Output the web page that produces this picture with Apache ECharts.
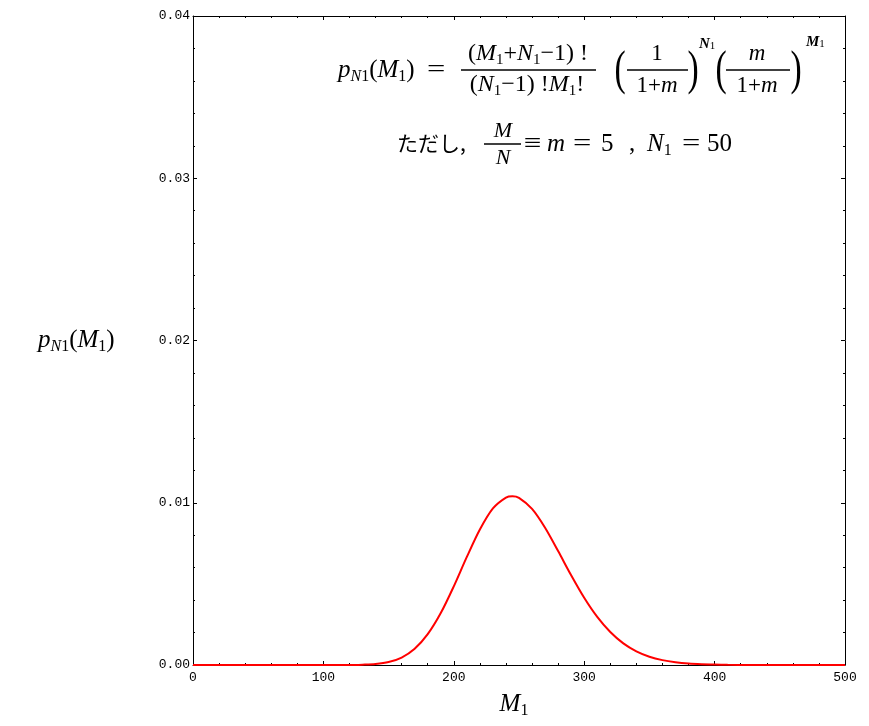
<!DOCTYPE html>
<html>
<head>
<meta charset="utf-8">
<script src="https://cdn.jsdelivr.net/npm/echarts@6/dist/echarts.min.js"></script>
<style>
  html, body { margin: 0; padding: 0; background: #fff; }
  #chart { width: 869px; height: 726px; }
</style>
</head>
<body>
<div id="chart"></div>
<script>
// 負の二項分布 p_N1(M1)  (m = 5, N1 = 50) -- 図から読み取った値
const mVals = [0, 20, 40, 60, 80, 100, 110, 120, 130, 140, 150, 160, 170, 180, 190,
  200, 210, 220, 230, 240, 245, 250, 260, 270, 280, 290, 300, 310, 320, 330, 340, 350, 360, 370, 380,
  390, 400, 410, 420, 440, 460, 480, 500]
const pVals = [0, 0, 0, 0, 0, 0, 0, 0, 0.00002, 0.00006, 0.00018, 0.00046, 0.00100, 0.00190, 0.00320,
  0.00485, 0.00666, 0.00835, 0.00965, 0.01032, 0.0104, 0.01030, 0.00962, 0.00846, 0.00702, 0.00553, 0.00414, 0.00296, 0.00203, 0.00133, 0.00084, 0.00051, 0.00030, 0.00017, 0.00009,
  0.00005, 0.00003, 0.00001, 0, 0, 0, 0, 0]
const xTicks = [0, 100, 200, 300, 400, 500]
const yTicks = [0, 0.01, 0.02, 0.03, 0.04]

const SERIF = '"Liberation Serif", "DejaVu Serif", serif'
const MONO = '"Liberation Mono", "DejaVu Sans Mono", monospace'
const CJK = '"Noto Sans CJK JP", sans-serif'

// 数式用のリッチテキストスタイル
const mathRich = (size) => {
  const sub = Math.round(size * 0.62)
  return {
    r: { fontFamily: SERIF, fontSize: size, lineHeight: size + 4, color: '#000' },
    i: { fontFamily: SERIF, fontStyle: 'italic', fontSize: size, lineHeight: size + 4, color: '#000' },
    s: { fontFamily: SERIF, fontSize: sub, lineHeight: sub, verticalAlign: 'bottom', color: '#000' },
    si: { fontFamily: SERIF, fontStyle: 'italic', fontSize: sub, lineHeight: sub, verticalAlign: 'bottom', color: '#000' },
    pi: { fontFamily: SERIF, fontStyle: 'italic', fontWeight: 'bold', fontSize: 15, lineHeight: 16, color: '#000' },
    p: { fontFamily: SERIF, fontSize: 11, lineHeight: 16, verticalAlign: 'bottom', color: '#000' },
    j: { fontFamily: CJK, fontSize: size - 2, lineHeight: size + 4, color: '#000' }
  }
}

function tx (x, y, text, size, align, sx) {
  return {
    type: 'text', x: x, y: y, z: 10, scaleX: sx || 1,
    style: { text: text, rich: mathRich(size), align: align || 'left', verticalAlign: 'middle' }
  }
}
function bar (x1, x2, y) {
  return { type: 'line', z: 10, shape: { x1: x1, y1: y, x2: x2, y2: y }, style: { stroke: '#000', lineWidth: 1.4 } }
}
function paren (x, y, ch) {
  return {
    type: 'text', x: x, y: y, z: 10, scaleX: 0.7,
    style: { text: ch, font: '48px ' + SERIF, fill: '#000', align: 'center', verticalAlign: 'middle' }
  }
}

const formula = [
  tx(338, 70, '{i|p}{si|N}{s|1}{r|(}{i|M}{s|1}{r|)}', 25),
  tx(427, 70, '{r|=}', 25, 'left', 1.3),
  tx(528, 54, '{r|(}{i|M}{s|1}{r|+}{i|N}{s|1}{r|−1) !}', 24, 'center'),
  bar(461, 596, 70),
  tx(527, 85, '{r|(}{i|N}{s|1}{r|−1) !}{i|M}{s|1}{r|!}', 24, 'center'),
  paren(620, 71, '('),
  tx(657, 54, '{r|1}', 23, 'center'),
  bar(627, 688, 70),
  tx(657, 86, '{r|1+}{i|m}', 23, 'center'),
  paren(693, 71, ')'),
  tx(699, 44, '{pi|N}{p|1}', 15),
  paren(721, 71, '('),
  tx(757, 54, '{i|m}', 23, 'center'),
  bar(726, 790, 70),
  tx(757, 86, '{r|1+}{i|m}', 23, 'center'),
  paren(796, 71, ')'),
  tx(806, 42, '{pi|M}{p|1}', 15),
  // 2行目
  tx(397, 143, '{j|ただし,}', 23),
  tx(503, 131, '{i|M}', 22, 'center'),
  bar(484, 521, 144),
  tx(503, 158, '{i|N}', 22, 'center'),
  tx(524, 144, '{r|≡}', 26, 'left', 1.2),
  tx(547, 144, '{i|m}', 25),
  tx(573, 144, '{r|=}', 25, 'left', 1.3),
  tx(601, 144, '{r|5}', 25),
  tx(629, 144, '{r|,}', 25),
  tx(647, 144, '{i|N}{s|1}', 25),
  tx(682, 144, '{r|=}', 25, 'left', 1.3),
  tx(707, 144, '{r|50}', 25),
  // 軸名
  tx(514, 704, '{i|M}{s|1}', 25, 'center'),
  tx(38, 340, '{i|p}{si|N}{s|1}{r|(}{i|M}{s|1}{r|)}', 25)
]

const chart = echarts.init(document.getElementById('chart'))
const tickLabel = { color: '#000', fontFamily: MONO, fontSize: 13 }
const axisBase = {
  type: 'value',
  axisLine: { show: true, onZero: false, lineStyle: { color: '#000', width: 1 } },
  axisTick: { show: true, inside: true, length: 4, lineStyle: { color: '#000' } },
  minorTick: { show: true, splitNumber: 5, length: 2, lineStyle: { color: '#000' } },
  splitLine: { show: false }
}
chart.setOption({
  animation: false,
  backgroundColor: '#fff',
  grid: { left: 193, right: 24, top: 16, bottom: 61 },
  xAxis: [
    Object.assign({}, axisBase, {
      min: xTicks[0], max: xTicks[xTicks.length - 1], interval: xTicks[1] - xTicks[0],
      axisLabel: Object.assign({ margin: 6 }, tickLabel)
    }),
    Object.assign({}, axisBase, {
      position: 'top',
      min: xTicks[0], max: xTicks[xTicks.length - 1], interval: xTicks[1] - xTicks[0],
      axisLabel: { show: false }
    })
  ],
  yAxis: [
    Object.assign({}, axisBase, {
      min: yTicks[0], max: yTicks[yTicks.length - 1], interval: yTicks[1] - yTicks[0],
      axisLabel: Object.assign({ margin: 3, formatter: v => v.toFixed(2) }, tickLabel)
    }),
    Object.assign({}, axisBase, {
      position: 'right',
      min: yTicks[0], max: yTicks[yTicks.length - 1], interval: yTicks[1] - yTicks[0],
      axisLabel: { show: false }
    })
  ],
  series: [{
    type: 'line',
    data: mVals.map((m, i) => [m, pVals[i]]),
    showSymbol: false,
    smooth: 0.3,
    lineStyle: { color: '#ff0000', width: 2 },
    itemStyle: { color: '#ff0000' },
    z: 3
  }],
  graphic: formula
})
</script>
</body>
</html>
